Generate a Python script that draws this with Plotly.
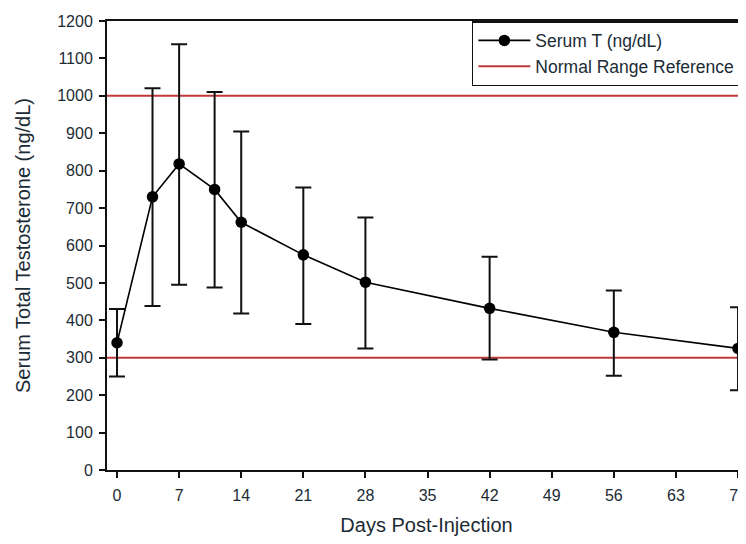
import plotly.graph_objects as go

days = [0, 4, 7, 11, 14, 21, 28, 42, 56, 70]
serum_t = [340, 730, 818, 750, 662, 575, 502, 432, 368, 325]
err_upper = [430, 1020, 1138, 1010, 905, 755, 675, 570, 480, 435]
err_lower = [250, 438, 495, 488, 418, 390, 325, 295, 252, 213]
ref_levels = [300, 1000]
x_ticks = [0, 7, 14, 21, 28, 35, 42, 49, 56, 63, 70]
y_ticks = list(range(0, 1201, 100))

plus = [u - m for u, m in zip(err_upper, serum_t)]
minus = [m - l for m, l in zip(serum_t, err_lower)]

fig = go.Figure()

ref_color = "#c0393b"
for i, lvl in enumerate(ref_levels):
    fig.add_trace(go.Scatter(
        x=[-5, 80], y=[lvl, lvl], mode="lines",
        line=dict(color=ref_color, width=2),
        name="Normal Range Reference",
        showlegend=(i == 0), legendrank=2, hoverinfo="skip",
    ))

fig.add_trace(go.Scatter(
    x=days, y=serum_t, mode="lines+markers",
    name="Serum T (ng/dL)", legendrank=1, cliponaxis=False,
    line=dict(color="black", width=1.6),
    marker=dict(color="black", size=11.5),
    error_y=dict(type="data", symmetric=False, array=plus, arrayminus=minus,
                 color="#111", thickness=2, width=8),
))

text_color = "#1b2b35"
fam = "Liberation Sans, Arial, sans-serif"
axis_font = dict(family=fam, size=16, color=text_color)

# page body has an 8px default margin; size figure to fill the 746x544 window
fig.update_layout(
    width=738, height=528,
    margin=dict(l=99, r=0, t=13, b=66, autoexpand=False),
    paper_bgcolor="white", plot_bgcolor="white",
    font=dict(family=fam, color=text_color),
    showlegend=True,
    legend=dict(
        x=0.571, xanchor="left", y=1, yanchor="top",
        bordercolor="#111", borderwidth=1.5, bgcolor="white",
        font=dict(size=17.5, color=text_color),
        tracegroupgap=0, itemwidth=52,
    ),
    xaxis=dict(
        range=[-1.13, 70.9], tickvals=x_ticks, showgrid=False, zeroline=False,
        showline=True, linecolor="#111", linewidth=2, mirror=True,
        ticks="outside", ticklen=6, tickwidth=2, tickcolor="#111",
        tickfont=axis_font, automargin=True, ticklabeloverflow="allow",
        ticklabelstandoff=4,
        title=dict(text="Days Post-Injection", font=dict(size=20, color=text_color), standoff=22),
    ),
    yaxis=dict(
        range=[0, 1200], tickvals=y_ticks, showgrid=False, zeroline=False,
        showline=True, linecolor="#111", linewidth=2,
        ticks="outside", ticklen=6, tickwidth=2, tickcolor="#111",
        tickfont=axis_font, automargin=False, ticklabelstandoff=3,
        title=dict(text="Serum Total Testosterone (ng/dL)", font=dict(size=20, color=text_color), standoff=21),
    ),
)

fig.write_html("out.html")
